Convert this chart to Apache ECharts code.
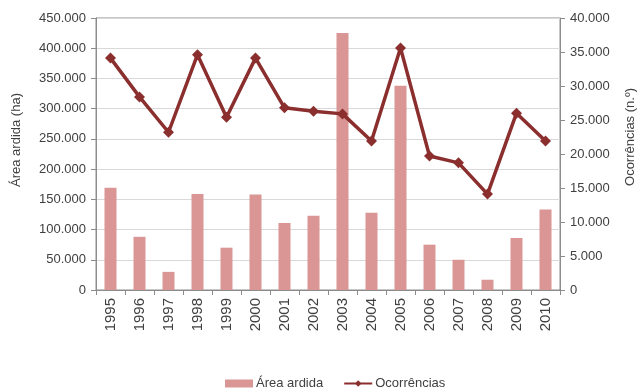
<!DOCTYPE html>
<html><head><meta charset="utf-8">
<script src="https://cdn.jsdelivr.net/npm/echarts@6/dist/echarts.min.js"></script>
<style>html,body{margin:0;padding:0;background:#fff}#c{width:638px;height:392px}</style>
</head><body><div id="c"></div>
<script>
const years = ['1995','1996','1997','1998','1999','2000','2001','2002','2003','2004','2005','2006','2007','2008','2009','2010'];
const areaArdida = [169000,88000,30000,159000,70000,158000,111000,123000,425000,128000,338000,75000,50000,17000,86000,133000];
const ocorrencias = [34100,28400,23200,34600,25400,34100,26800,26300,25900,21900,35600,19700,18700,14100,26000,21900];
const leftName = 'Área ardida (ha)';
const rightName = 'Ocorrências (n.º)';

const fmt = v => String(v).replace(/\B(?=(\d{3})+(?!\d))/g, '.');
const txt = '#404040';
const ff = 'Liberation Sans, Arial, sans-serif';
const chart = echarts.init(document.getElementById('c'));
chart.setOption({
  animation:false,
  textStyle:{fontFamily:ff},
  grid:{left:96,right:78,top:18,bottom:102,show:true,borderColor:'#8c8c8c',borderWidth:1,outerBoundsMode:'none',containLabel:false},
  graphic:[
    {type:'text',x:16,y:140,rotation:Math.PI/2,style:{text:leftName,align:'center',verticalAlign:'middle',fontSize:13,fontFamily:ff,fill:txt}},
    {type:'text',x:630,y:137,rotation:Math.PI/2,style:{text:rightName,align:'center',verticalAlign:'middle',fontSize:13,fontFamily:ff,fill:txt}}
  ],
  legend:{top:372,left:220,itemGap:20,itemWidth:28,itemHeight:8,
    textStyle:{color:txt,fontSize:13,padding:[0,0,0,-2],fontFamily:ff},
    data:[{name:'Área ardida',icon:'rect'},{name:'Ocorrências'}]},
  xAxis:{type:'category',data:years,
    axisLine:{lineStyle:{color:'#8c8c8c'}},
    axisTick:{show:true,length:5,lineStyle:{color:'#8c8c8c'}},
    axisLabel:{rotate:90,color:txt,fontSize:15,margin:8}},
  yAxis:[
    {type:'value',min:0,max:450000,interval:50000,
     axisLine:{show:true,lineStyle:{color:'#8c8c8c'}},
     axisTick:{show:true,length:5,lineStyle:{color:'#8c8c8c'}},
     axisLabel:{color:txt,fontSize:13,margin:10,formatter:fmt},
     splitLine:{lineStyle:{color:'#d9d9d9'}}},
    {type:'value',min:0,max:40000,interval:5000,
     axisLine:{show:true,lineStyle:{color:'#8c8c8c'}},
     axisTick:{show:true,length:5,lineStyle:{color:'#8c8c8c'}},
     axisLabel:{color:txt,fontSize:13,margin:10,formatter:fmt},
     splitLine:{show:false}}
  ],
  series:[
    {name:'Área ardida',type:'bar',data:areaArdida,barWidth:12,itemStyle:{color:'#d99694'},yAxisIndex:0},
    {name:'Ocorrências',type:'line',data:ocorrencias,yAxisIndex:1,symbol:'diamond',symbolSize:11,
     lineStyle:{color:'#8b2e2e',width:3.5},itemStyle:{color:'#8b2e2e'}}
  ]
});
</script></body></html>
